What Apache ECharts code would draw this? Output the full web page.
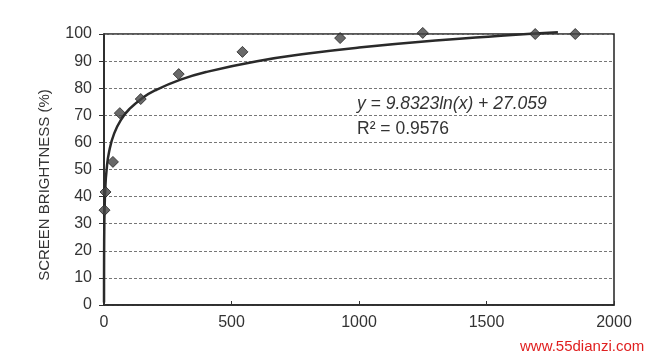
<!DOCTYPE html>
<html>
<head>
<meta charset="utf-8">
<script src="https://cdn.jsdelivr.net/npm/echarts@6/dist/echarts.min.js"></script>
<style>
	html, body { margin: 0; padding: 0; background: #fff; }
	#chart { width: 653px; height: 359px; }
</style>
</head>
<body>
<div id="chart"></div>
<script>
	/*测量点：x值与屏幕亮度(%)*/
	var pointX = [2, 6, 35, 62, 144, 293, 543, 926, 1250, 1691, 1848];
	var pointY = [35, 41.7, 52.8, 70.8, 76, 85.2, 93.4, 98.5, 100.4, 100, 100];

	/*对数趋势线 y = a*ln(x) + b，系数取自图中公式*/
	var trendA = 9.8323;
	var trendB = 27.059;
	var trendX = [0.07, 0.1, 0.2, 0.5, 1, 2, 5, 10, 20, 40, 70, 100, 150, 200, 300, 400, 600, 800, 1000, 1300, 1600, 1780];

	var xTicks = ['0', '500', '1000', '1500', '2000'];

	var scatterData = pointX.map(function (x, i) { return [x, pointY[i]]; });
	var trendData = trendX.map(function (x) { return [x, trendA * Math.log(x) + trendB]; });

	var myChart = echarts.init(document.getElementById('chart'));
	var labelFont = 'Liberation Sans, Arial, sans-serif';

	var option = {
		animation: false,
		backgroundColor: '#fff',
		grid: {
			left: 104, right: 39, top: 34, bottom: 54,
			show: true,
			borderColor: '#222',
			borderWidth: 1.5
		},
		xAxis: {
			type: 'value',
			min: 0, max: 2000, interval: 500,
			splitLine: { show: false },
			axisLine: { show: true, lineStyle: { color: '#222', width: 1.5 } },
			axisTick: { show: true, length: 4, inside: true, lineStyle: { color: '#333' } },
			axisLabel: {
				color: '#333', fontSize: 16, fontFamily: labelFont, margin: 10,
				formatter: function (v) { return xTicks[v / 500]; }
			}
		},
		yAxis: {
			type: 'value',
			min: 0, max: 100, interval: 10,
			axisLine: { show: true, lineStyle: { color: '#222', width: 1.5 } },
			axisTick: { show: true, length: 5, lineStyle: { color: '#333' } },
			splitLine: { show: true, lineStyle: { color: '#777', type: [3, 2], width: 1 } },
			axisLabel: { color: '#333', fontSize: 16, fontFamily: labelFont, margin: 12 }
		},
		series: [{
			type: 'line',
			data: trendData,
			smooth: true,
			showSymbol: false,
			lineStyle: { color: '#2a2a2a', width: 2.5 },
			clip: false,
			z: 2
		}, {
			type: 'scatter',
			data: scatterData,
			symbol: 'diamond',
			symbolSize: 11,
			itemStyle: { color: '#444', borderColor: '#222', borderWidth: 1 },
			clip: false,
			z: 3
		}],
		graphic: [{
			type: 'text', x: 45, y: 185, rotation: Math.PI / 2,
			style: {
				text: 'SCREEN BRIGHTNESS (%)', fill: '#333', align: 'center', verticalAlign: 'middle',
				font: '15px Liberation Sans, Arial, sans-serif'
			}
		}, {
			type: 'text', left: 357, top: 95,
			style: { text: 'y = 9.8323ln(x) + 27.059', fill: '#333', font: 'italic 17.5px Liberation Sans, Arial, sans-serif' }
		}, {
			type: 'text', left: 357, top: 120,
			style: { text: 'R² = 0.9576', fill: '#333', font: '17.5px Liberation Sans, Arial, sans-serif' }
		}, {
			type: 'text', left: 520, top: 339,
			style: { text: 'www.55dianzi.com', fill: '#e02020', font: '15px Liberation Sans, Arial, sans-serif' }
		}]
	};
	myChart.setOption(option);
</script>
</body>
</html>
